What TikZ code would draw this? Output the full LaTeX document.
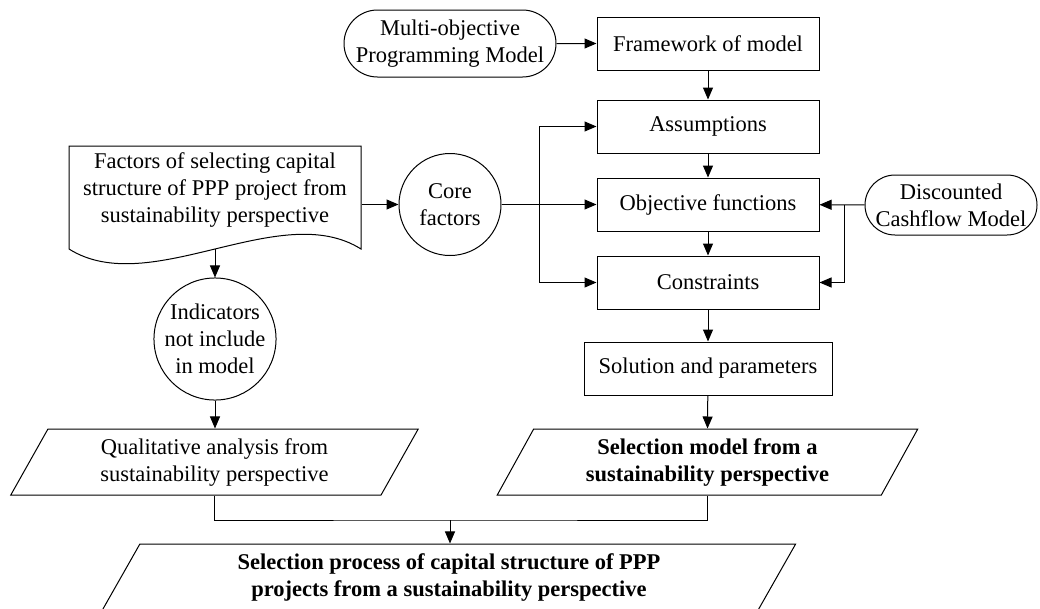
\documentclass[tikz,border=0pt]{standalone}
\usepackage{fontspec}
\setmainfont{Liberation Serif}
\usetikzlibrary{arrows.meta,shapes.geometric,shapes.misc}

\begin{document}
\begin{tikzpicture}[x=1pt,y=-1pt,line width=1pt,
		font=\fontsize{22.5}{27}\selectfont,
		box/.style={draw,rectangle,minimum width=222pt,minimum height=53pt,inner sep=2pt},
		term/.style={draw,rounded rectangle,align=center,inner sep=2pt},
		rnd/.style={draw,circle,align=center,inner sep=0pt},
		para/.style={draw,trapezium,trapezium left angle=63.4,trapezium right angle=116.6,
			trapezium stretches=true,minimum height=66pt,align=center,inner sep=2pt},
		arr/.style={-{Triangle[length=12pt,width=10pt]}}]
			\useasboundingbox (0,0) rectangle (1040,608);
			\node[term,minimum width=216pt,minimum height=67pt] (mop) at (450,43.5) {Multi-objective\\Programming Model};
			\node[box] (frame) at (708,43.5) {Framework of model};
			\node[box] (assum) at (708,126.5) {Assumptions};
			\node[box] (obj) at (708,204.5) {Objective functions};
			\node[box] (cons) at (708,282.5) {Constraints};
			\node[box,minimum width=248pt] (sol) at (708,368.5) {Solution and parameters};
			\node[term,minimum width=176pt,minimum height=60pt] (dcf) at (951,205) {Discounted\\Cashflow Model};
			\node[rnd,minimum size=102pt] (core) at (450,204.5) {Core\\factors};
			\node[align=center,minimum width=292pt,inner sep=0pt] (fac) at (215,190) {Factors of selecting capital\\structure of PPP project from\\sustainability perspective};
			\draw (69,249) -- (69,146) -- (361,146) -- (361,249) .. controls (280,198) and (150,300) .. (69,249);
			\coordinate (wave) at (215,249);
			\node[rnd,minimum size=122pt] (ind) at (215,339) {Indicators\\not include\\in model};
			\node[para,minimum width=409pt] (qual) at (214.5,462) {Qualitative analysis from\\sustainability perspective};
			\node[para,minimum width=421pt,font=\fontsize{22.5}{27}\selectfont\bfseries] (selm) at (707.5,462) {Selection model from a\\sustainability perspective};
			\node[para,minimum width=698pt,font=\fontsize{22.5}{27}\selectfont\bfseries] (final) at (449,577) {Selection process of capital structure of PPP\\projects from a sustainability perspective};
			\coordinate (split) at (539,204.5);
			\coordinate (dsplit) at (844,204.5);
			\coordinate (join) at (450,520);
			\draw[arr] (mop) -- (frame);
			\draw[arr] (frame) -- (assum);
			\draw[arr] (assum) -- (obj);
			\draw[arr] (obj) -- (cons);
			\draw[arr] (cons) -- (sol);
			\draw[arr] (sol) -- (selm.north);
			\draw[arr] (fac.east |- core) -- (core);
			\draw[arr] (core) -- (obj);
			\draw[arr] (split) |- (assum);
			\draw[arr] (split) |- (cons);
			\draw[arr] (dcf) -- (obj);
			\draw[arr] (dsplit) |- (cons);
			\draw[arr] (wave) -- (ind);
			\draw[arr] (ind.south) -- (ind.south |- qual.north);
			\draw (qual.south) |- (join) -| (selm.south);
			\draw[arr] (join) -- (join |- final.north);
		\end{tikzpicture}
\end{document}
